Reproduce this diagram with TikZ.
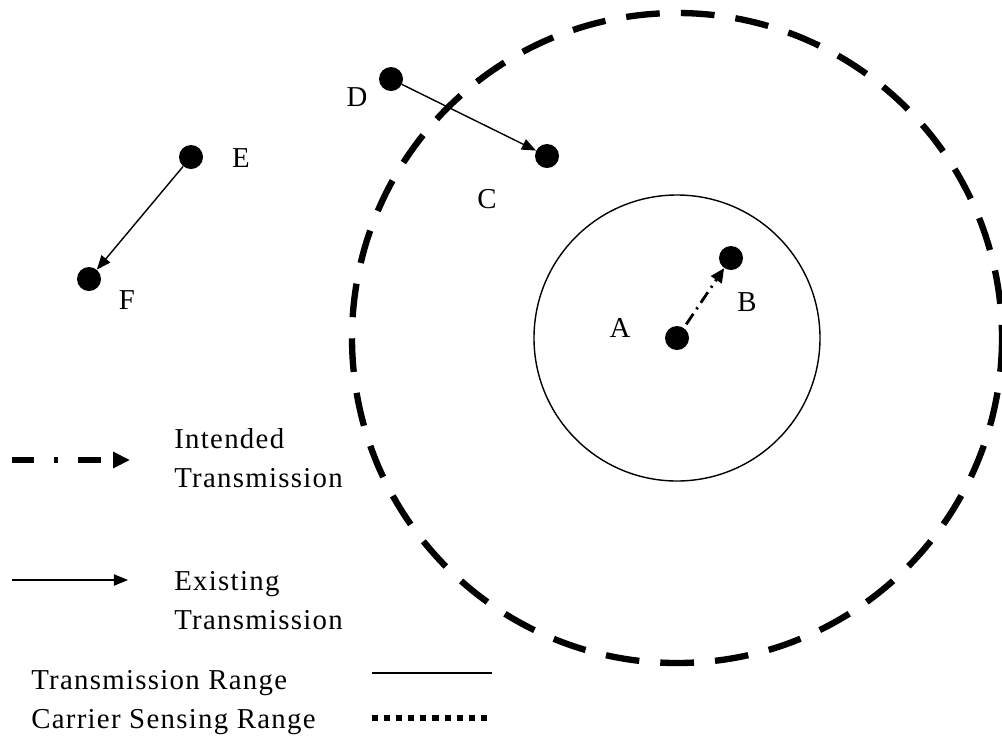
\documentclass[tikz,border=0pt]{standalone}
\usepackage{fontspec}
\setmainfont{Liberation Serif}[LetterSpace=4.5]
\usepackage{tikz}
\usetikzlibrary{arrows.meta, positioning}

\begin{document}
\begin{tikzpicture}[x=0.025cm, y=-0.025cm,
  station/.style={circle, fill=black, inner sep=0pt, minimum size=0.6cm},
  tag/.style={font=\fontsize{20.5}{27.7}\selectfont, inner sep=0pt},
  legendtext/.style={font=\fontsize{20.5}{27.7}\selectfont, inner sep=0pt, anchor=west, align=left},
  txrange/.style={line width=1pt},
  csrange/.style={line width=4.5pt, dash pattern=on 24pt off 15pt},
  existing/.style={-{Triangle[length=10pt, width=8pt]}, line width=1pt},
  intended/.style={-{Triangle[length=10pt, width=9pt]}, line width=2pt,
    dash pattern=on 9pt off 4pt on 1.5pt off 4pt},
  intendedkey/.style={-{Triangle[length=12pt, width=11pt]}, line width=3.6pt,
    dash pattern=on 16pt off 14pt on 3pt off 14pt},
  cskey/.style={line width=4.3pt, dash pattern=on 4.3pt off 4.3pt}
]
\useasboundingbox (0,0) rectangle (1002,746);

% ranges around A
\draw[csrange] (677,338) circle (325);
\draw[txrange] (677,338) circle (143);

% stations
\node[station] (A) at (677,338) {};
\node[station] (B) at (731,258) {};
\node[station] (C) at (547,156) {};
\node[station] (D) at (391,79)  {};
\node[station] (E) at (191,157) {};
\node[station] (F) at (89,279)  {};

\node[tag] (labA) at (620,328) {A};
\node[tag] (labB) at (747,302) {B};
\node[tag] (labC) at (487,199) {C};
\node[tag] (labD) at (357,97)  {D};
\node[tag] (labE) at (241,158) {E};
\node[tag] (labF) at (127,300) {F};

\draw[existing] (D) -- (C);
\draw[existing] (E) -- (F);
\draw[intended, shorten <=3pt] (A) -- (B);

% legend
\coordinate (k1a) at (12,460);  \coordinate (k1b) at (130,460);
\coordinate (k2a) at (12,580);  \coordinate (k2b) at (128,580);
\coordinate (k3a) at (372,673); \coordinate (k3b) at (492,673);
\coordinate (k4a) at (372,718); \coordinate (k4b) at (490,718);

\draw[intendedkey] (k1a) -- (k1b);
\node[legendtext] (key1) at (174,458) {Intended\\Transmission};
\draw[existing] (k2a) -- (k2b);
\node[legendtext] (key2) at (174,601) {Existing\\Transmission};
\node[legendtext] (key3) at (31,683) {Transmission Range};
\draw[txrange] (k3a) -- (k3b);
\node[legendtext] (key4) at (31,722) {Carrier Sensing Range};
\draw[cskey] (k4a) -- (k4b);
\end{tikzpicture}
\end{document}
